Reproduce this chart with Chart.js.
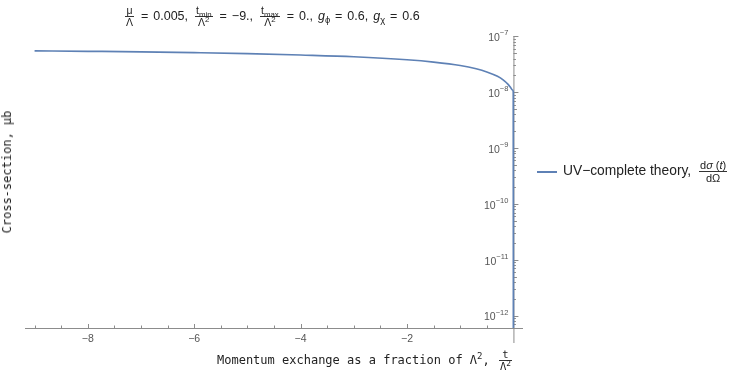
<!DOCTYPE html>
<html>
<head>
<meta charset="utf-8">
<script src="https://cdn.jsdelivr.net/npm/chart.js@4.4.0/dist/chart.umd.min.js"></script>
<style>
    body { margin: 0; background: #fff; }
    #wrap { position: relative; width: 740px; height: 374px; font-family: "Liberation Sans", Arial, sans-serif; color: #222; }
    #chart { position: absolute; left: 0; top: 0; }
    .frac { display: inline-block; vertical-align: middle; text-align: center; font-size: 10.5px; line-height: 11px; margin: 0 2px; }
    .frac > span { display: block; padding: 0 1px; }
    .frac .num { border-bottom: 1px solid #333; }
    sub, sup { font-size: 75%; line-height: 0; }
    #title { position: absolute; left: 123px; top: 5px; font-size: 12.5px; white-space: nowrap; word-spacing: 1.5px; }
    #legend { position: absolute; left: 537px; top: 159px; font-size: 13.8px; white-space: nowrap; }
    #legend .frac { font-size: 11px; line-height: 12px; margin-left: 4px; }
    #legend .swatch { display: inline-block; width: 20px; height: 2px; background: #5E81B5; vertical-align: middle; margin-right: 6px; }
    #ytitle { position: absolute; left: 7px; top: 172px; transform: translate(-50%, -50%) rotate(-90deg); font-family: "DejaVu Sans Mono", monospace; font-size: 12px; white-space: nowrap; }
    #xtitle { position: absolute; left: 217px; top: 349px; font-family: "DejaVu Sans Mono", monospace; font-size: 12px; white-space: nowrap; }
</style>
</head>
<body>
<div id="wrap">
    <canvas id="chart" width="740" height="374"></canvas>
    <div id="title">
        <span class="frac"><span class="num">μ</span><span>Λ</span></span> = 0.005,
        <span class="frac"><span class="num">t<sub>min</sub></span><span>Λ<sup>2</sup></span></span> = −9.,
        <span class="frac"><span class="num">t<sub>max</sub></span><span>Λ<sup>2</sup></span></span> = 0.,
        <i>g</i><sub>ϕ</sub> = 0.6, <i>g</i><sub>χ</sub> = 0.6
    </div>
    <div id="legend"><span class="swatch"></span>UV−complete theory, <span class="frac"><span class="num">d<i>σ</i> (<i>t</i>)</span><span>dΩ</span></span></div>
    <div id="ytitle">Cross-section, μb</div>
    <div id="xtitle">Momentum exchange as a fraction of Λ<sup>2</sup>, <span class="frac"><span class="num">t</span><span>Λ<sup>2</sup></span></span></div>
</div>
<script>
// t / Lambda^2 and cross-section
var tValues = [-9, -8, -7, -6, -5, -4, -3, -2, -1.5, -1, -0.7, -0.5, -0.3, -0.2, -0.1, -0.05, -0.02, -0.003, 0];
var sigmaValues = [5.48e-8, 5.38e-8, 5.27e-8, 5.10e-8, 4.90e-8, 4.62e-8, 4.30e-8, 3.80e-8, 3.45e-8, 3.0e-8,
    2.62e-8, 2.30e-8, 1.92e-8, 1.68e-8, 1.38e-8, 1.2e-8, 1.1e-8, 1.02e-8, 1e-14];

var xMajorTicks = [-8, -6, -4, -2];
var xMinorTicks = [-9, -8.5, -7.5, -7, -6.5, -5.5, -5, -4.5, -3.5, -3, -2.5, -1.5, -1, -0.5];
var yMajorTicks = [1e-7, 1e-8, 1e-9, 1e-10, 1e-11, 1e-12];
var yTickExponents = ["−7", "−8", "−9", "−10", "−11", "−12"];

var axisColor = '#8c8c8c';
var labelColor = '#555';

var axesPlugin = {
    id: 'mmaAxes',
    beforeDatasetsDraw: function (chart) {
        var ctx = chart.ctx, xs = chart.scales.x, ys = chart.scales.y, area = chart.chartArea;
        var x0 = xs.getPixelForValue(0);
        ctx.save();
        ctx.strokeStyle = axisColor;
        ctx.lineWidth = 1;
        ctx.beginPath();
        // x axis
        ctx.moveTo(area.left, area.bottom + 0.5);
        ctx.lineTo(area.right, area.bottom + 0.5);
        // y axis at t = 0
        ctx.moveTo(x0 + 0.5, area.top);
        ctx.lineTo(x0 + 0.5, area.bottom + 15);
        xMajorTicks.forEach(function (v) {
            var px = Math.round(xs.getPixelForValue(v)) + 0.5;
            ctx.moveTo(px, area.bottom);
            ctx.lineTo(px, area.bottom - 4);
        });
        xMinorTicks.forEach(function (v) {
            var px = Math.round(xs.getPixelForValue(v)) + 0.5;
            ctx.moveTo(px, area.bottom);
            ctx.lineTo(px, area.bottom - 2.5);
        });
        yMajorTicks.forEach(function (v) {
            var py = Math.round(ys.getPixelForValue(v)) + 0.5;
            ctx.moveTo(x0, py);
            ctx.lineTo(x0 + 5, py);
        });
        for (var e = -13; e <= -8; e++) {
            for (var m = 2; m <= 9; m++) {
                var v = m * Math.pow(10, e);
                if (v < ys.min || v > ys.max) continue;
                var py = Math.round(ys.getPixelForValue(v)) + 0.5;
                ctx.moveTo(x0, py);
                ctx.lineTo(x0 + (m === 5 ? 3.5 : 2.5), py);
            }
        }
        ctx.stroke();

        ctx.fillStyle = labelColor;
        ctx.textBaseline = 'middle';
        ctx.textAlign = 'center';
        ctx.font = '10.5px "Liberation Sans", Arial, sans-serif';
        xMajorTicks.forEach(function (v) {
            ctx.fillText('−' + Math.abs(v), xs.getPixelForValue(v), area.bottom + 11);
        });

        ctx.textAlign = 'left';
        yMajorTicks.forEach(function (v, i) {
            var py = ys.getPixelForValue(v);
            ctx.font = '7.5px "Liberation Sans", Arial, sans-serif';
            var ew = ctx.measureText(yTickExponents[i]).width;
            ctx.font = '10.5px "Liberation Sans", Arial, sans-serif';
            var bw = ctx.measureText('10').width;
            var right = x0 - 5;
            ctx.fillText('10', right - ew - bw, py + 2);
            ctx.font = '7.5px "Liberation Sans", Arial, sans-serif';
            ctx.fillText(yTickExponents[i], right - ew, py - 3);
        });
        ctx.restore();
    }
};

var points = tValues.map(function (t, i) { return { x: t, y: sigmaValues[i] }; });

new Chart(document.getElementById('chart').getContext('2d'), {
    type: 'line',
    data: {
        datasets: [{
            label: 'UV−complete theory',
            data: points,
            borderColor: '#5E81B5',
            borderWidth: 1.7,
            pointRadius: 0,
            fill: false,
            cubicInterpolationMode: 'monotone'
        }]
    },
    options: {
        responsive: false,
        animation: false,
        devicePixelRatio: 1,
        layout: { padding: { left: 25, right: 217, top: 36, bottom: 46 } },
        plugins: { legend: { display: false }, title: { display: false }, tooltip: { enabled: false } },
        scales: {
            x: { type: 'linear', min: -9.18, max: 0.18, display: false },
            y: { type: 'logarithmic', min: Math.pow(10, -12.22), max: Math.pow(10, -6.995), display: false }
        }
    },
    plugins: [axesPlugin]
});
</script>
</body>
</html>
